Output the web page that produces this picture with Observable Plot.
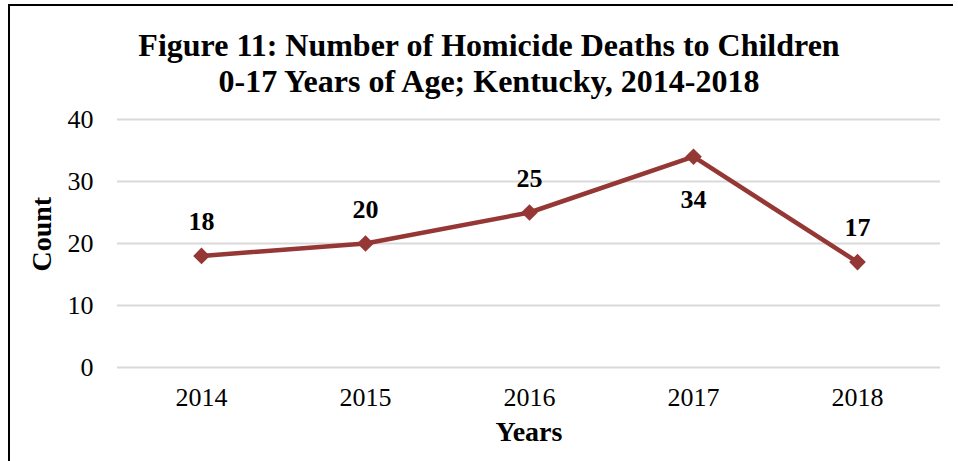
<!DOCTYPE html>
<html>
<head>
<meta charset="utf-8">
<script src="https://cdn.jsdelivr.net/npm/d3@7"></script>
<script src="https://cdn.jsdelivr.net/npm/@observablehq/plot@0.6"></script>
<style>
  html, body { margin: 0; padding: 0; background: #fff; }
  #wrap { position: relative; width: 958px; height: 461px; overflow: hidden; background: #fff; }
  #frame { position: absolute; left: 8px; top: 4px; width: 945px; height: 470px; border-left: 2px solid #000; border-top: 2px solid #000; box-sizing: border-box; }
  #title { position: absolute; left: 0; top: 27px; width: 978px; text-align: center; font-family: "Liberation Serif", "Times New Roman", serif; font-weight: bold; font-size: 32px; line-height: 36px; color: #000; }
  #chart { position: absolute; left: 0; top: 0; }
</style>
</head>
<body>
<div id="wrap">
  <div id="chart"></div>
  <div id="frame"></div>
  <div id="title">Figure 11: Number of Homicide Deaths to Children<br>0-17 Years of Age; Kentucky, 2014-2018</div>
</div>
<script>
const years = [2014, 2015, 2016, 2017, 2018];
const counts = [18, 20, 25, 34, 17];
const labelSide = ["above", "above", "above", "below", "above"];
const yTicks = [0, 10, 20, 30, 40];

const data = years.map((year, i) => ({year, count: counts[i], side: labelSide[i]}));
const lineColor = "#953735";
const font = "'Liberation Serif', 'Times New Roman', serif";

const chart = Plot.plot({
  width: 958,
  height: 461,
  marginLeft: 117,
  marginRight: 18,
  marginTop: 119,
  marginBottom: 94,
  style: {fontFamily: font, fontSize: "26px", color: "#000", background: "transparent"},
  x: {type: "point", domain: years, padding: 0.5, label: null},
  y: {domain: [0, 40], ticks: yTicks, label: null},
  marks: [
    Plot.gridY(yTicks, {stroke: "#d9d9d9", strokeWidth: 2, strokeOpacity: 1}),
    Plot.axisY({ticks: yTicks, tickSize: 0, tickPadding: 24, fontSize: 26, label: null}),
    Plot.axisX({tickSize: 0, tickPadding: 20, fontSize: 26, label: null, tickFormat: d => String(d)}),
    Plot.line(data, {x: "year", y: "count", stroke: lineColor, strokeWidth: 4.5}),
    Plot.dot(data, {x: "year", y: "count", symbol: "diamond2", r: 7.5, fill: lineColor, stroke: null}),
    Plot.text(data, {filter: d => d.side === "above", x: "year", y: "count", text: d => String(d.count), dy: -34, fontWeight: "bold", fontSize: 26, fill: "#000"}),
    Plot.text(data, {filter: d => d.side === "below", x: "year", y: "count", text: d => String(d.count), dy: 43, fontWeight: "bold", fontSize: 26, fill: "#000"}),
    Plot.text(["Count"], {frameAnchor: "left", rotate: -90, dx: -75, dy: 28, fontWeight: "bold", fontSize: 28, fill: "#000"}),
    Plot.text(["Years"], {frameAnchor: "bottom", dy: 73, fontWeight: "bold", fontSize: 28, fill: "#000"})
  ]
});
document.getElementById("chart").appendChild(chart);
</script>
</body>
</html>
